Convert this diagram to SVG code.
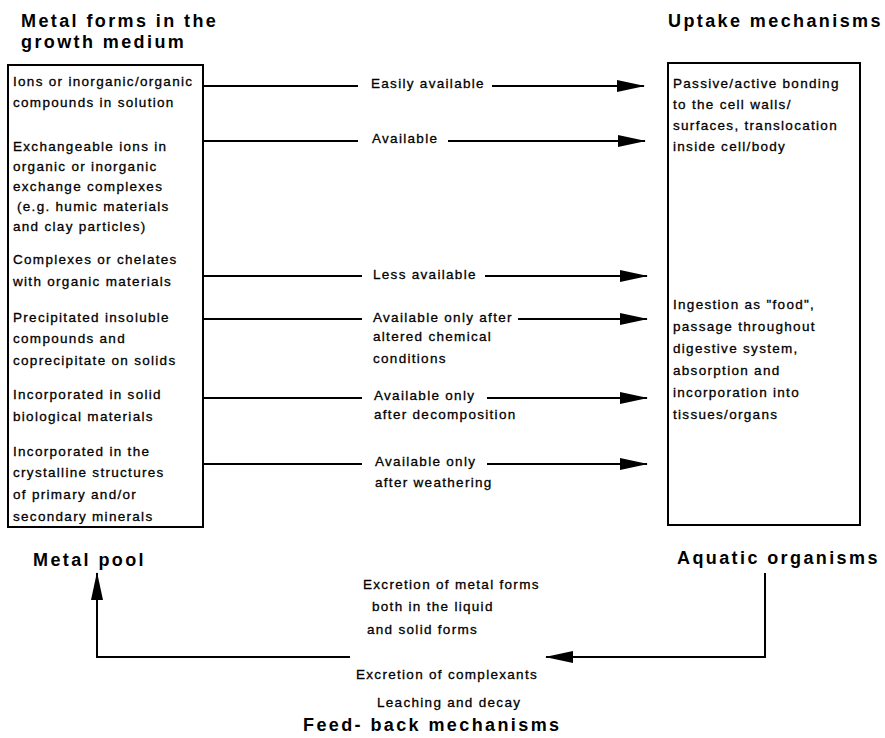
<svg xmlns="http://www.w3.org/2000/svg" width="885" height="738" viewBox="0 0 885 738">
<style>
.t{font-family:"Liberation Sans",Arial,sans-serif;font-size:13.5px;letter-spacing:1.3px;fill:#000;stroke:#000;stroke-width:0.3}
.h{font-family:"Liberation Sans",Arial,sans-serif;font-size:18px;font-weight:bold;letter-spacing:2.4px;fill:#000}
.box{fill:none;stroke:#000;stroke-width:2}
.ln{fill:none;stroke:#000;stroke-width:2}
.ar{fill:none;stroke:#000;stroke-width:2;marker-end:url(#ah)}
</style>
<defs>
<marker id="ah" markerUnits="userSpaceOnUse" markerWidth="28" markerHeight="12" viewBox="0 0 28 12" refX="27" refY="6" orient="auto"><path d="M0,0 L28,6 L0,12 z" fill="#000"/></marker>
</defs>
<rect width="885" height="738" fill="#fff"/>
<g id="title-metal-forms">
<text class="h" x="21" y="27">Metal forms in the</text>
<text class="h" x="21" y="48">growth medium</text>
</g>
<g id="title-uptake">
<text class="h" x="668" y="27">Uptake mechanisms</text>
</g>
<g id="node-metal-forms">
<rect class="box" x="8" y="65" width="195" height="462"/>
<text class="t" x="13" y="86">Ions or inorganic/organic</text>
<text class="t" x="13" y="107">compounds in solution</text>
<text class="t" x="13" y="151">Exchangeable ions in</text>
<text class="t" x="13" y="171">organic or inorganic</text>
<text class="t" x="13" y="191">exchange complexes</text>
<text class="t" x="17" y="211">(e.g. humic materials</text>
<text class="t" x="13" y="231">and clay particles)</text>
<text class="t" x="13" y="264">Complexes or chelates</text>
<text class="t" x="13" y="286">with organic materials</text>
<text class="t" x="13" y="322">Precipitated insoluble</text>
<text class="t" x="13" y="343">compounds and</text>
<text class="t" x="13" y="365">coprecipitate on solids</text>
<text class="t" x="13" y="399">Incorporated in solid</text>
<text class="t" x="13" y="421">biological materials</text>
<text class="t" x="13" y="456">Incorporated in the</text>
<text class="t" x="13" y="477">crystalline structures</text>
<text class="t" x="13" y="499">of primary and/or</text>
<text class="t" x="13" y="521">secondary minerals</text>
</g>
<g id="node-uptake">
<rect class="box" x="668" y="63" width="192" height="462"/>
<text class="t" x="673" y="88">Passive/active bonding</text>
<text class="t" x="673" y="109">to the cell walls/</text>
<text class="t" x="673" y="130">surfaces, translocation</text>
<text class="t" x="673" y="151">inside cell/body</text>
<text class="t" x="673" y="309">Ingestion as "food",</text>
<text class="t" x="673" y="331">passage throughout</text>
<text class="t" x="673" y="353">digestive system,</text>
<text class="t" x="673" y="375">absorption and</text>
<text class="t" x="673" y="397">incorporation into</text>
<text class="t" x="673" y="419">tissues/organs</text>
</g>
<g id="node-metal-pool">
<text class="h" x="33" y="566">Metal pool</text>
</g>
<g id="node-aquatic-organisms">
<text class="h" x="677" y="564">Aquatic organisms</text>
</g>
<g id="node-feedback">
<text class="h" x="303" y="731">Feed- back mechanisms</text>
</g>
<g id="connectors">
<path class="ln" d="M203,86 H358"/>
<path class="ar" d="M492,86 H644"/>
<path class="ln" d="M203,141 H358"/>
<path class="ar" d="M448,141 H645"/>
<path class="ln" d="M203,276 H362"/>
<path class="ar" d="M485,276 H647"/>
<path class="ln" d="M203,319 H362"/>
<path class="ar" d="M518,319 H647"/>
<path class="ln" d="M203,398 H362"/>
<path class="ar" d="M487,398 H647"/>
<path class="ln" d="M203,464 H362"/>
<path class="ar" d="M487,464 H647"/>
<path class="ar" d="M765,573 V657 H546"/>
<path class="ar" d="M350,657 H97 V573"/>
</g>
<g id="connector-labels">
<text class="t" x="371" y="88">Easily available</text>
<text class="t" x="372" y="143">Available</text>
<text class="t" x="373" y="279">Less available</text>
<text class="t" x="373" y="322">Available only after</text>
<text class="t" x="373" y="341">altered chemical</text>
<text class="t" x="373" y="363">conditions</text>
<text class="t" x="374" y="400">Available only</text>
<text class="t" x="374" y="419">after decomposition</text>
<text class="t" x="375" y="466">Available only</text>
<text class="t" x="375" y="487">after weathering</text>
<text class="t" x="363" y="589">Excretion of metal forms</text>
<text class="t" x="372" y="611">both in the liquid</text>
<text class="t" x="367" y="634">and solid forms</text>
<text class="t" x="356" y="679">Excretion of complexants</text>
<text class="t" x="377" y="707">Leaching and decay</text>
</g>
</svg>
